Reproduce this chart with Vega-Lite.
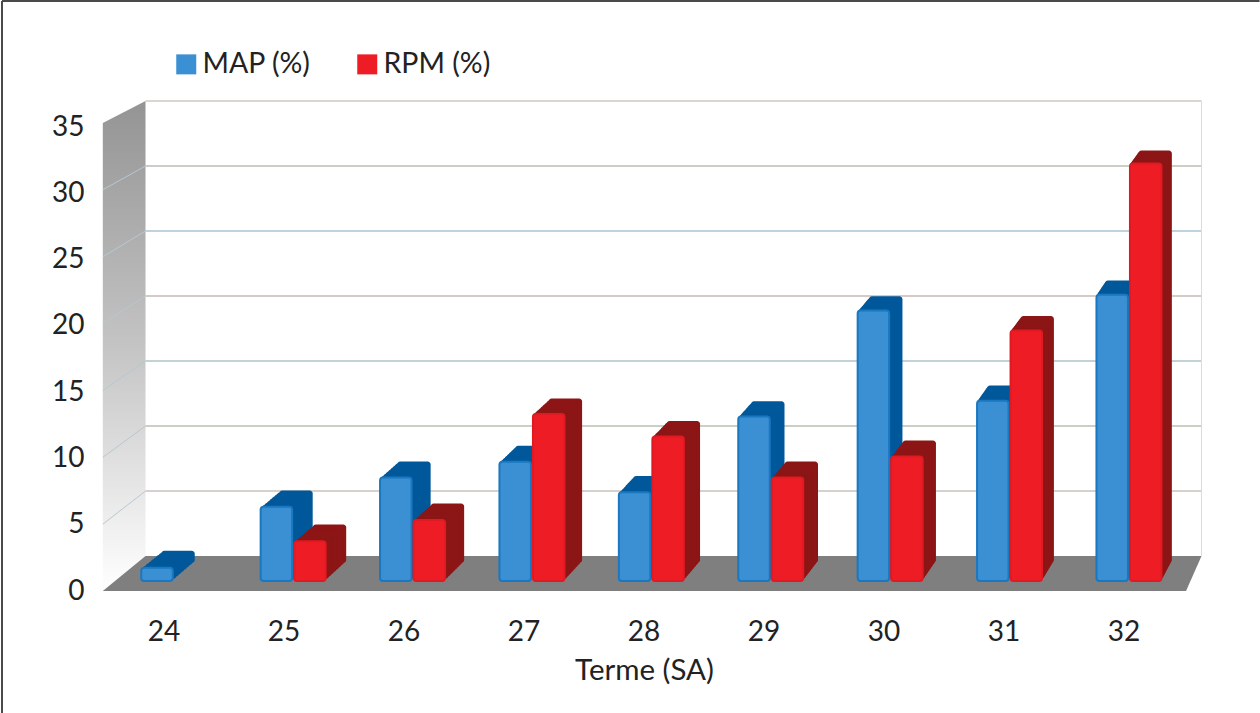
{"$schema":"https://vega.github.io/schema/vega-lite/v6.json","width":1080,"height":464,"autosize":{"type":"none"},"padding":{"left":104,"top":127,"right":76,"bottom":122},"background":"white","view":{"stroke":null},"config":{"font":"Lato"},
"datasets":{
"bars":[{"t":24,"s":"MAP (%)","v":1.0},{"t":25,"s":"MAP (%)","v":5.6},{"t":25,"s":"RPM (%)","v":3.0},{"t":26,"s":"MAP (%)","v":7.8},{"t":26,"s":"RPM (%)","v":4.6},{"t":27,"s":"MAP (%)","v":9.0},{"t":27,"s":"RPM (%)","v":12.6},{"t":28,"s":"MAP (%)","v":6.7},{"t":28,"s":"RPM (%)","v":10.9},{"t":29,"s":"MAP (%)","v":12.4},{"t":29,"s":"RPM (%)","v":7.8},{"t":30,"s":"MAP (%)","v":20.4},{"t":30,"s":"RPM (%)","v":9.4},{"t":31,"s":"MAP (%)","v":13.6},{"t":31,"s":"RPM (%)","v":18.9},{"t":32,"s":"MAP (%)","v":21.6},{"t":32,"s":"RPM (%)","v":31.5}],
"floor":[{"y":-2.69,"a":23.49,"b":32.517},{"y":0,"a":23.846,"b":32.646}],
"side":[{"x":23.49,"lo":-2.69,"hi":33.31},{"x":23.846,"lo":0,"hi":35}],
"grid":[{"y":5},{"y":10},{"y":15},{"y":20},{"y":25},{"y":30},{"y":35}],
"sidegrid":[{"a":2.45,"b":5},{"a":7.59,"b":10},{"a":12.74,"b":15},{"a":17.88,"b":20},{"a":23.02,"b":25},{"a":28.17,"b":30}],
"frame":[{"x":22.65,"x2":33.13,"y":42.7,"y2":42.7},{"x":22.65,"x2":22.65,"y":42.7,"y2":-12.08}]
},
"layer":[
{"encoding":{},"layer":[
{"data":{"name":"frame"},"mark":{"type":"rule","color":"#4a4a4a","strokeWidth":2},"encoding":{"x":{"field":"x","type":"quantitative","scale":{"domain":[23.5,32.5],"nice":false,"zero":false},"axis":null},"x2":{"field":"x2"},"y":{"field":"y","type":"quantitative","scale":{"domain":[-2.69,33],"nice":false,"zero":false},"axis":null},"y2":{"field":"y2"}}},
{"data":{"name":"side"},"mark":{"type":"area","orient":"vertical","color":{"gradient":"linear","x1":0,"y1":0,"x2":0,"y2":1,"stops":[{"offset":0,"color":"#949494"},{"offset":0.5,"color":"#c4c4c4"},{"offset":1,"color":"#ffffff"}]}},"encoding":{"x":{"field":"x","type":"quantitative","scale":{"domain":[23.5,32.5],"nice":false,"zero":false},"axis":null},"y":{"field":"lo","type":"quantitative","scale":{"domain":[-2.69,33],"nice":false,"zero":false},"axis":null},"y2":{"field":"hi"}}},
{"data":{"name":"sidegrid"},"mark":{"type":"rule","color":"#b7c8d0","strokeWidth":1},"encoding":{"x":{"datum":23.49,"type":"quantitative","scale":{"domain":[23.5,32.5],"nice":false,"zero":false},"axis":null},"x2":{"datum":23.846},"y":{"field":"a","type":"quantitative","scale":{"domain":[-2.69,33],"nice":false,"zero":false},"axis":null},"y2":{"field":"b"}}},
{"data":{"name":"grid"},"mark":{"type":"rule","strokeWidth":1.5},"encoding":{"x":{"datum":23.846,"type":"quantitative","scale":{"domain":[23.5,32.5],"nice":false,"zero":false},"axis":null},"x2":{"datum":32.646},"y":{"field":"y","type":"quantitative","scale":{"domain":[-2.69,33],"nice":false,"zero":false},"axis":null},"color":{"field":"y","type":"ordinal","legend":null,"scale":{"domain":[5,10,15,20,25,30,35],"range":["#c8c2bd","#bdbfb2","#aec3cc","#c9b9b0","#a9c4d2","#bdbdb5","#cfc9c3"]}}}},
{"data":{"values":[{"y":0,"y2":35}]},"mark":{"type":"rule","color":"#dcdcdc","strokeWidth":1},"encoding":{"x":{"datum":32.646,"type":"quantitative","scale":{"domain":[23.5,32.5],"nice":false,"zero":false},"axis":null},"y":{"field":"y","type":"quantitative","scale":{"domain":[-2.69,33],"nice":false,"zero":false},"axis":null},"y2":{"field":"y2"}}},
{"data":{"name":"floor"},"mark":{"type":"area","orient":"horizontal","color":"#7f7f7f"},"encoding":{"y":{"field":"y","type":"quantitative","scale":{"domain":[-2.69,33],"nice":false,"zero":false},"axis":null},"x":{"field":"a","type":"quantitative","scale":{"domain":[23.5,32.5],"nice":false,"zero":false},"axis":null},"x2":{"field":"b"}}}
],"resolve":{"scale":{"x":"shared","y":"shared"}}},
{"data":{"name":"bars"},
"encoding":{
"x":{"field":"t","type":"ordinal","scale":{"domain":[24,25,26,27,28,29,30,31,32],"paddingInner":0.4417,"paddingOuter":0.2208},"axis":{"title":"Terme (SA)","labelAngle":0,"ticks":false,"domain":false,"grid":false,"labelPadding":27,"labelFontSize":28,"labelColor":"#222222","labelFont":"Lato","titleFont":"Lato","titleFontSize":29.5,"titleFontWeight":"normal","titleColor":"#222222","titlePadding":10}},
"y":{"field":"v","type":"quantitative","scale":{"domain":[0,35],"nice":false},"axis":{"values":[0,5,10,15,20,25,30,35],"ticks":false,"domain":false,"grid":false,"title":null,"labelPadding":20,"labelFontSize":28,"labelColor":"#222222","labelFont":"Lato"}},
"y2":{"datum":0}
},
"layer":[
{"mark":{"type":"bar","width":33.5,"cornerRadius":3,"xOffset":{"expr":"(datum.s=='MAP (%)'?-7:26.5)-0.6*(datum.t-24)+1*(21-1.45*(datum.t-24))"},"yOffset":{"expr":"-(10+1*(17-0.13*datum.v))"},"y2Offset":-28},"encoding":{"color":{"condition":{"test":"datum.s=='MAP (%)'","value":"#00589b"},"value":"#8c1515"}}},
{"mark":{"type":"bar","width":33.5,"cornerRadius":3,"xOffset":{"expr":"(datum.s=='MAP (%)'?-7:26.5)-0.6*(datum.t-24)+0.875*(21-1.45*(datum.t-24))"},"yOffset":{"expr":"-(10+0.875*(17-0.13*datum.v))"},"y2Offset":-25.75},"encoding":{"color":{"condition":{"test":"datum.s=='MAP (%)'","value":"#00589b"},"value":"#8c1515"}}},
{"mark":{"type":"bar","width":33.5,"cornerRadius":3,"xOffset":{"expr":"(datum.s=='MAP (%)'?-7:26.5)-0.6*(datum.t-24)+0.75*(21-1.45*(datum.t-24))"},"yOffset":{"expr":"-(10+0.75*(17-0.13*datum.v))"},"y2Offset":-23.5},"encoding":{"color":{"condition":{"test":"datum.s=='MAP (%)'","value":"#00589b"},"value":"#8c1515"}}},
{"mark":{"type":"bar","width":33.5,"cornerRadius":3,"xOffset":{"expr":"(datum.s=='MAP (%)'?-7:26.5)-0.6*(datum.t-24)+0.625*(21-1.45*(datum.t-24))"},"yOffset":{"expr":"-(10+0.625*(17-0.13*datum.v))"},"y2Offset":-21.25},"encoding":{"color":{"condition":{"test":"datum.s=='MAP (%)'","value":"#00589b"},"value":"#8c1515"}}},
{"mark":{"type":"bar","width":33.5,"cornerRadius":3,"xOffset":{"expr":"(datum.s=='MAP (%)'?-7:26.5)-0.6*(datum.t-24)+0.5*(21-1.45*(datum.t-24))"},"yOffset":{"expr":"-(10+0.5*(17-0.13*datum.v))"},"y2Offset":-19},"encoding":{"color":{"condition":{"test":"datum.s=='MAP (%)'","value":"#00589b"},"value":"#8c1515"}}},
{"mark":{"type":"bar","width":33.5,"cornerRadius":3,"xOffset":{"expr":"(datum.s=='MAP (%)'?-7:26.5)-0.6*(datum.t-24)+0.375*(21-1.45*(datum.t-24))"},"yOffset":{"expr":"-(10+0.375*(17-0.13*datum.v))"},"y2Offset":-16.75},"encoding":{"color":{"condition":{"test":"datum.s=='MAP (%)'","value":"#00589b"},"value":"#8c1515"}}},
{"mark":{"type":"bar","width":33.5,"cornerRadius":3,"xOffset":{"expr":"(datum.s=='MAP (%)'?-7:26.5)-0.6*(datum.t-24)+0.25*(21-1.45*(datum.t-24))"},"yOffset":{"expr":"-(10+0.25*(17-0.13*datum.v))"},"y2Offset":-14.5},"encoding":{"color":{"condition":{"test":"datum.s=='MAP (%)'","value":"#00589b"},"value":"#8c1515"}}},
{"mark":{"type":"bar","width":33.5,"cornerRadius":3,"xOffset":{"expr":"(datum.s=='MAP (%)'?-7:26.5)-0.6*(datum.t-24)+0.125*(21-1.45*(datum.t-24))"},"yOffset":{"expr":"-(10+0.125*(17-0.13*datum.v))"},"y2Offset":-12.25},"encoding":{"color":{"condition":{"test":"datum.s=='MAP (%)'","value":"#00589b"},"value":"#8c1515"}}},
{"mark":{"type":"bar","width":31.5,"cornerRadius":3,"strokeWidth":2,"xOffset":{"expr":"(datum.s=='MAP (%)'?-7:26.5)-0.6*(datum.t-24)"},"yOffset":-10,"y2Offset":-10},"encoding":{"color":{"field":"s","type":"nominal","scale":{"domain":["MAP (%)","RPM (%)"],"range":["#3b8fd3","#ee1c25"]},"legend":{"title":null,"orient":"none","legendX":68,"legendY":-77,"direction":"horizontal","columns":2,"symbolType":"square","symbolSize":400,"symbolOpacity":1,"symbolStrokeWidth":0,"labelFontSize":28.5,"labelFont":"Lato","labelColor":"#222222","labelLimit":300,"labelOffset":2,"columnPadding":42}},"stroke":{"condition":{"test":"datum.s=='MAP (%)'","value":"#1a78c0"},"value":"#e01a23"}}}
]}
],"resolve":{"scale":{"x":"independent","y":"independent","color":"independent"},"axis":{"x":"independent","y":"independent"}}}
